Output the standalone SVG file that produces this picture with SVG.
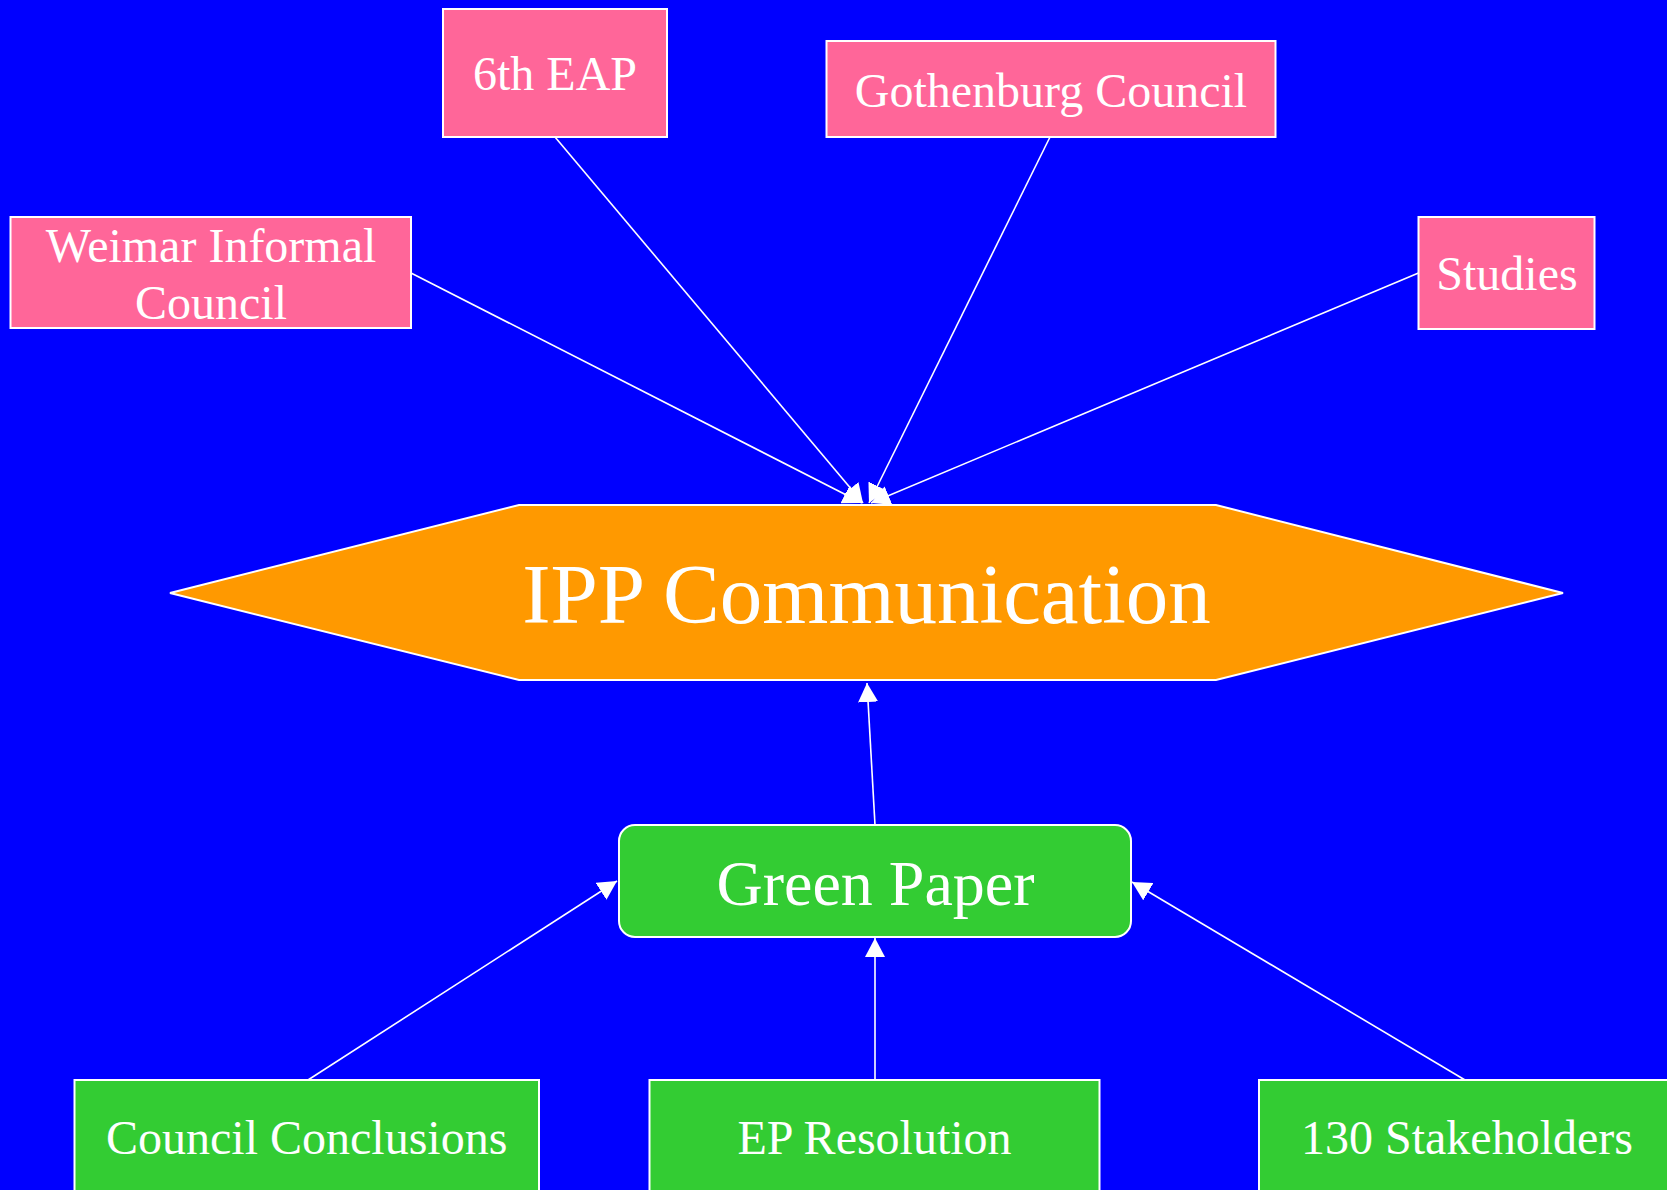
<svg xmlns="http://www.w3.org/2000/svg" width="1667" height="1190" viewBox="0 0 1667 1190">
<defs>
<marker id="arr" markerUnits="userSpaceOnUse" markerWidth="20" markerHeight="20" refX="19" refY="10" orient="auto">
<path d="M0,0 L19,10 L0,20 z" fill="#FFFFFF"/>
</marker>
<style>
.bg{fill:#0000FF}
.pink{fill:#FF6699;stroke:#FFFFFF;stroke-width:2}
.green{fill:#33CC33;stroke:#FFFFFF;stroke-width:2}
.orange{fill:#FF9900;stroke:#FFFFFF;stroke-width:2}
.t{font-family:"Liberation Serif","Times New Roman",serif;fill:#FFFFFF;text-anchor:middle}
.e{stroke:#FFFFFF;stroke-width:1.6;fill:none;marker-end:url(#arr)}
</style>
</defs>
<rect class="bg" x="0" y="0" width="1667" height="1190"/>
<g id="connectors">
<line class="e" x1="411" y1="273" x2="862" y2="503"/>
<line class="e" x1="555" y1="137" x2="863" y2="503"/>
<line class="e" x1="1050" y1="137" x2="869" y2="503"/>
<line class="e" x1="1418.5" y1="273" x2="871" y2="503"/>
<line class="e" x1="875" y1="825" x2="867" y2="683"/>
<line class="e" x1="308" y1="1080" x2="617" y2="881"/>
<line class="e" x1="875" y1="1080" x2="875" y2="938"/>
<line class="e" x1="1465" y1="1080" x2="1132" y2="882"/>
</g>
<g id="n6eap">
<rect class="pink" x="443" y="9" width="224" height="128"/>
<text class="t" x="555" y="90" font-size="48">6th EAP</text>
</g>
<g id="gothenburg">
<rect class="pink" x="826.5" y="41" width="449" height="96"/>
<text class="t" x="1051" y="107" font-size="48">Gothenburg Council</text>
</g>
<g id="weimar">
<rect class="pink" x="10.5" y="217" width="400.5" height="111"/>
<text class="t" x="211" y="262" font-size="48">Weimar Informal</text>
<text class="t" x="211" y="319" font-size="48">Council</text>
</g>
<g id="studies">
<rect class="pink" x="1418.5" y="217" width="176" height="112"/>
<text class="t" x="1507" y="290" font-size="48">Studies</text>
</g>
<g id="ipp">
<polygon class="orange" points="170,593 519,505 1216,505 1563,593 1216,680 519,680"/>
<text class="t" x="866.5" y="623" font-size="85">IPP Communication</text>
</g>
<g id="greenpaper">
<rect class="green" x="619" y="825" width="512" height="112" rx="16" ry="16"/>
<text class="t" x="875.5" y="905" font-size="64">Green Paper</text>
</g>
<g id="councilconclusions">
<rect class="green" x="74.5" y="1080" width="464.5" height="130"/>
<text class="t" x="306.7" y="1154" font-size="48">Council Conclusions</text>
</g>
<g id="epresolution">
<rect class="green" x="649.5" y="1080" width="450" height="130"/>
<text class="t" x="874.5" y="1154" font-size="48">EP Resolution</text>
</g>
<g id="stakeholders">
<rect class="green" x="1259" y="1080" width="417" height="130"/>
<text class="t" x="1467" y="1154" font-size="48">130 Stakeholders</text>
</g>
</svg>
